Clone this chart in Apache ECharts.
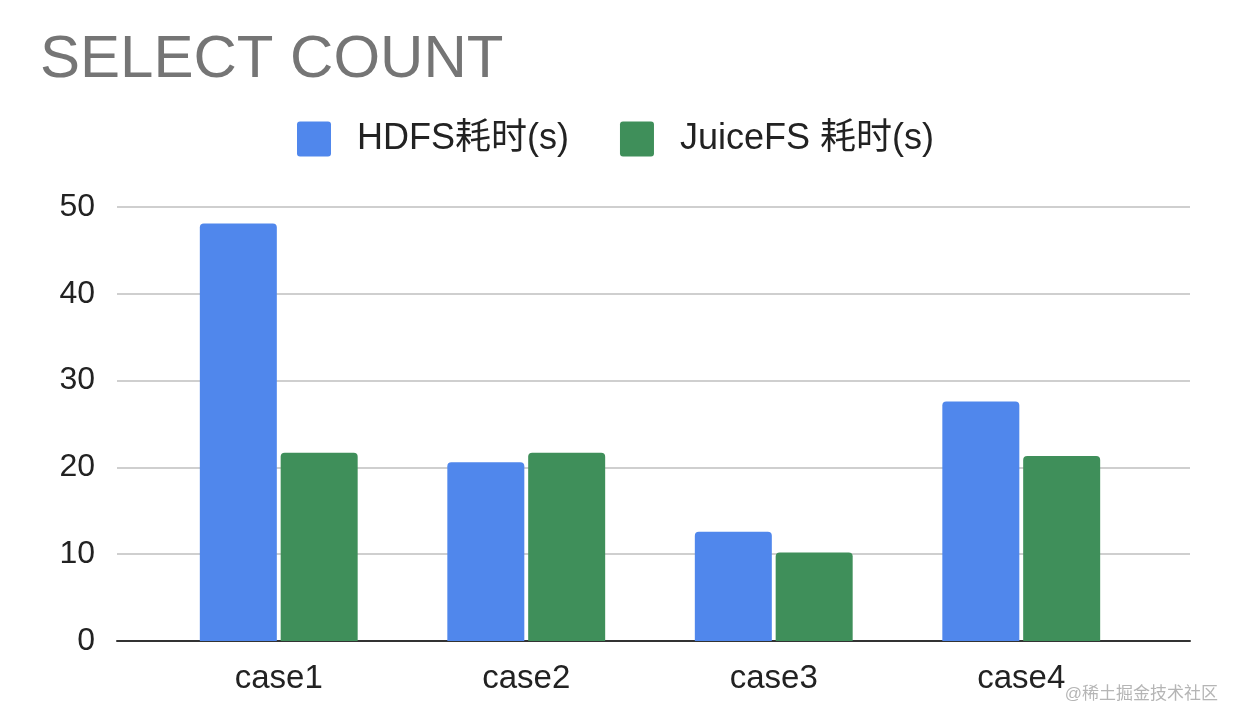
<!DOCTYPE html>
<html>
<head>
<meta charset="utf-8">
<script src="https://cdn.jsdelivr.net/npm/echarts@6/dist/echarts.min.js"></script>
<style>
  html, body { margin: 0; padding: 0; background: #fff; }
  #main { width: 1240px; height: 728px; }
</style>
</head>
<body>
<div id="main"></div>
<script>
// 数据
var categories = ['case1', 'case2', 'case3', 'case4'];
var hdfsTime = [48.1, 20.6, 12.6, 27.6];
var juicefsTime = [21.7, 21.7, 10.2, 21.3];
var yTicks = { min: 0, max: 50, interval: 10 };

var font = 'Liberation Sans, Arial, Noto Sans CJK SC, sans-serif';
var myChart = echarts.init(document.getElementById('main'));

// 小圆角的方块图例
var legendIcon = 'path://M3,0H31Q34,0 34,3V32Q34,35 31,35H3Q0,35 0,32V3Q0,0 3,0Z';

var option = {
  backgroundColor: '#fff',
  textStyle: { fontFamily: font },
  title: {
    text: 'SELECT COUNT',
    left: 40,
    top: 30,
    padding: 0,
    textStyle: { color: '#757575', fontSize: 60, fontWeight: 'normal', fontFamily: font }
  },
  legend: {
    left: 297,
    top: 121,
    padding: 0,
    itemWidth: 34,
    itemHeight: 35,
    itemGap: 51,
    icon: legendIcon,
    textStyle: { color: '#222', fontSize: 36, padding: [0, 0, 0, 21], fontFamily: font },
    data: ['HDFS耗时(s)', 'JuiceFS 耗时(s)']
  },
  // grid 0: 柱子的区域, grid 1: 网格线和坐标轴
  grid: [
    { left: 155, right: 95, top: 207, bottom: 87 },
    { left: 117, right: 50, top: 207, bottom: 87 }
  ],
  xAxis: [{
    type: 'category',
    gridIndex: 0,
    data: categories,
    axisLine: { show: false },
    axisTick: { show: false },
    axisLabel: { color: '#222', fontSize: 33, margin: 21, fontFamily: font }
  }, {
    type: 'category',
    gridIndex: 1,
    data: categories,
    axisLine: { lineStyle: { color: '#333', width: 2 } },
    axisTick: { show: false },
    axisLabel: { show: false }
  }],
  yAxis: [{
    type: 'value',
    gridIndex: 0,
    min: yTicks.min, max: yTicks.max, interval: yTicks.interval,
    show: false
  }, {
    type: 'value',
    gridIndex: 1,
    min: yTicks.min, max: yTicks.max, interval: yTicks.interval,
    axisLine: { show: false },
    axisTick: { show: false },
    axisLabel: { color: '#222', fontSize: 32, margin: 22, fontFamily: font },
    splitLine: { lineStyle: { color: '#cfcfcf', width: 2 } }
  }],
  series: [{
    name: 'HDFS耗时(s)',
    type: 'bar',
    xAxisIndex: 0, yAxisIndex: 0,
    data: hdfsTime,
    barWidth: 77,
    barGap: '5%',
    itemStyle: { color: '#5087EC', borderRadius: [4, 4, 0, 0] }
  }, {
    name: 'JuiceFS 耗时(s)',
    type: 'bar',
    xAxisIndex: 0, yAxisIndex: 0,
    data: juicefsTime,
    barWidth: 77,
    barGap: '5%',
    itemStyle: { color: '#3F8F5A', borderRadius: [4, 4, 0, 0] }
  }],
  graphic: [{
    type: 'text',
    right: 22,
    top: 686,
    style: { text: '@稀土掘金技术社区', fill: '#b5b5b5', fontSize: 17, fontFamily: font }
  }]
};

myChart.setOption(option);
</script>
</body>
</html>
